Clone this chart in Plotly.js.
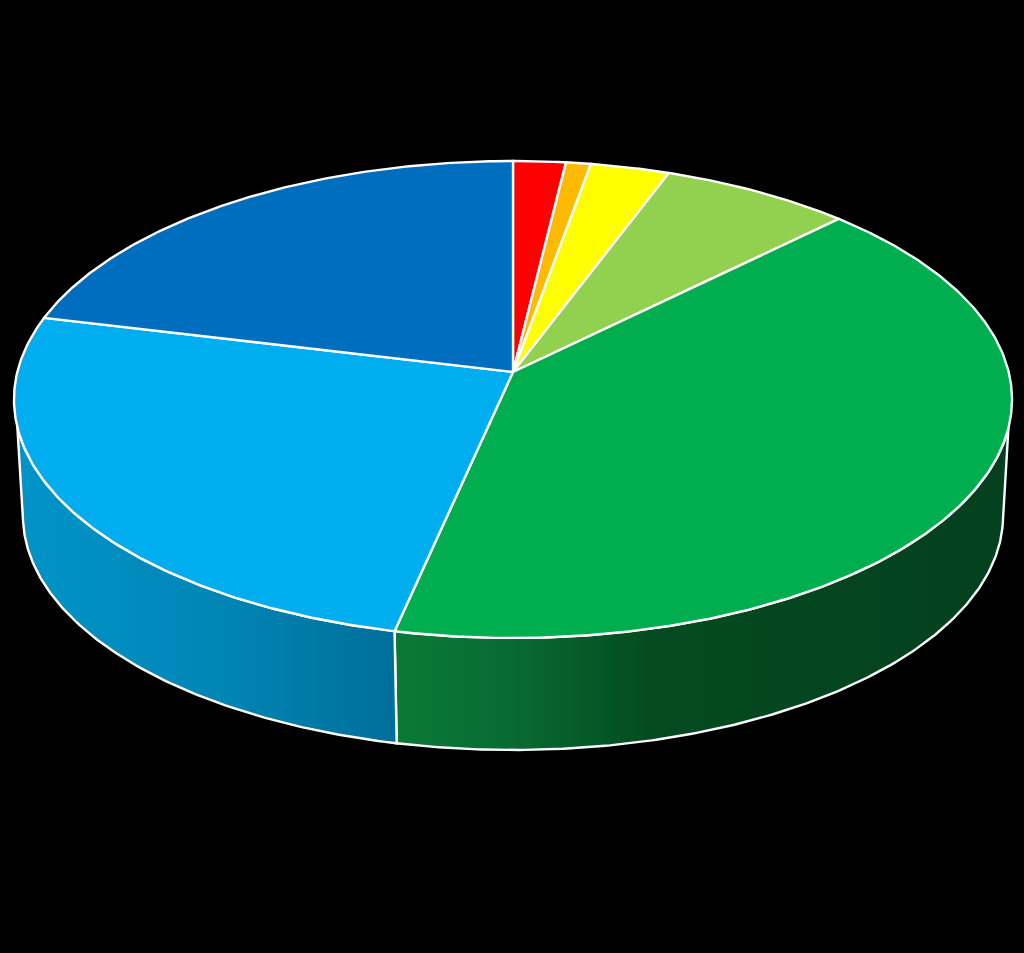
<!DOCTYPE html>
<html>
<head>
<meta charset="utf-8">
<script src="https://cdn.plot.ly/plotly-3.0.1.min.js"></script>
<style>html,body{margin:0;padding:0;background:#000;overflow:hidden}#chart{width:1024px;height:953px}</style>
</head>
<body>
<div id="chart"></div>
<script>
// Slice data, clockwise from 12 o'clock (percent)
const categories = ['Slice 1','Slice 2','Slice 3','Slice 4','Slice 5','Slice 6','Slice 7'];
const shares = [1.9, 0.9, 2.86, 6.92, 40.82, 25.4, 21.2];
const sliceColors = ['#FF0000','#FFBA00','#FFFF00','#92D050','#00AE4F','#00ADEF','#006EBE'];

// Visible outer wall of the two front slices
const wallGreen = [[0,'#0A7A38'],[0.2,'#086A31'],[0.42,'#044A20'],[1,'#04401E']];
const wallBlue  = [[0,'#0094C8'],[0.55,'#0085B4'],[1,'#006E9A']];

// Projection of the tilted disc
const cx = 513, apexY = 372, R = 495.7, S = 235.3, k = 0.1153;
const dropY = 116.8, lowerScale = 0.982;          // lower rim relative to the top rim
const leftTopDeg = 256.8, leftLowDeg = 261.9;     // silhouette of the wall, left
const rightTopDeg = 103.4, rightLowDeg = 97.6;    // silhouette of the wall, right

function project(deg, lower) {
  const t = deg * Math.PI / 180, u = Math.sin(t), v = -Math.cos(t), d = 1 - k * v;
  const f = lower ? lowerScale : 1, y0 = lower ? apexY + dropY : apexY;
  return [cx + f * R * u / d, y0 + f * S * v / d];
}
function arc(a0, a1, lower) {
  const n = Math.max(2, Math.ceil(Math.abs(a1 - a0) * 2)), pts = [];
  for (let i = 0; i <= n; i++) pts.push(project(a0 + (a1 - a0) * i / n, lower));
  return pts;
}
function poly(pts, extra) {
  const closed = pts.concat([pts[0]]);
  return Object.assign({
    x: closed.map(p => p[0]), y: closed.map(p => p[1]), mode: 'lines', fill: 'toself',
    line: {color: '#FFFFFF', width: 2.4, shape: 'linear'}, hoverinfo: 'name', showlegend: false
  }, extra);
}

const total = shares.reduce((a, b) => a + b, 0);
const bounds = [0];
shares.forEach(s => bounds.push(bounds[bounds.length - 1] + s / total * 360));

const splitDeg = bounds[5];   // boundary between the green and the light-blue slice
const traces = [];
traces.push(poly(arc(rightTopDeg, splitDeg, false).concat(arc(splitDeg, rightLowDeg, true)), {
  name: categories[4], fillgradient: {type: 'horizontal', colorscale: wallGreen}, fillcolor: '#04401E'
}));
traces.push(poly(arc(splitDeg, leftTopDeg, false).concat(arc(leftLowDeg, splitDeg, true)), {
  name: categories[5], fillgradient: {type: 'horizontal', colorscale: wallBlue}, fillcolor: '#0085B4'
}));
shares.forEach((s, i) => {
  const pts = [[cx, apexY]].concat(arc(bounds[i], bounds[i + 1], false));
  traces.push(poly(pts, {name: categories[i], fillcolor: sliceColors[i]}));
});

const hidden = {visible: false, fixedrange: true};
Plotly.newPlot('chart', traces, {
  width: 1024, height: 953,
  margin: {l: 0, r: 0, t: 0, b: 0},
  paper_bgcolor: '#000000', plot_bgcolor: '#000000',
  xaxis: Object.assign({range: [0, 1024]}, hidden),
  yaxis: Object.assign({range: [953, 0]}, hidden),
  showlegend: false
}, {displayModeBar: false, responsive: false});
</script>
</body>
</html>
